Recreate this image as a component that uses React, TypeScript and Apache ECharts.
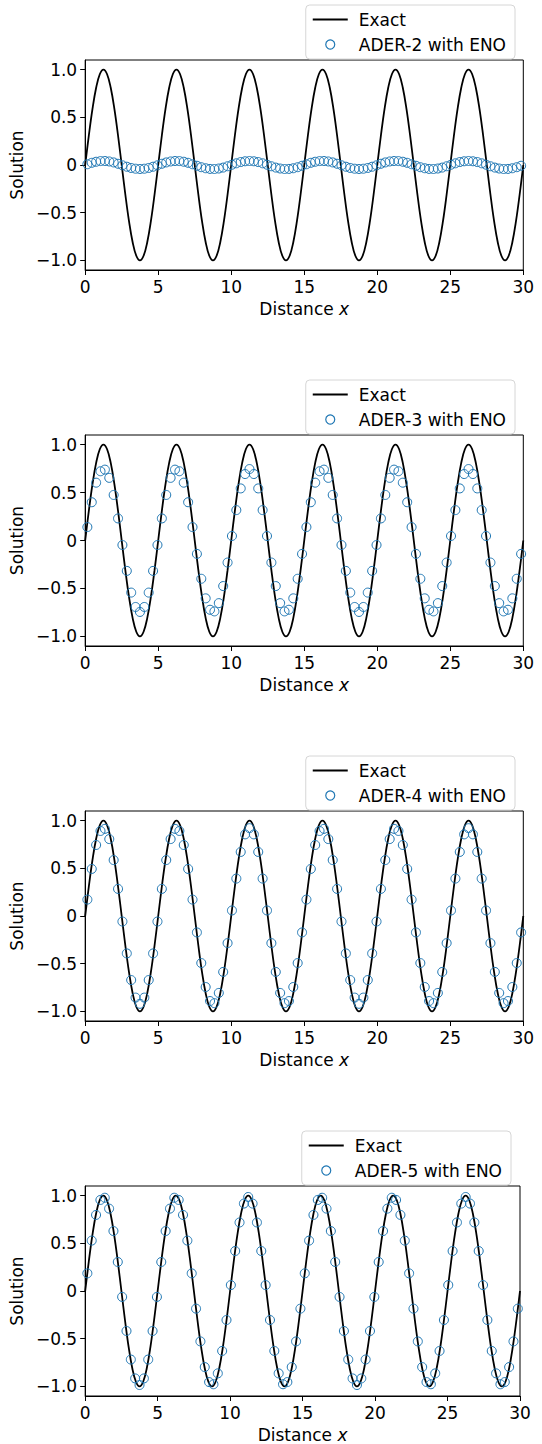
import React, { useEffect, useRef } from "react";
import * as echarts from "echarts";

// Cell centres of the numerical solutions (x)
const cellX = [
  0.15, 0.45, 0.75, 1.05, 1.35, 1.65, 1.95, 2.25, 2.55, 2.85,
  3.15, 3.45, 3.75, 4.05, 4.35, 4.65, 4.95, 5.25, 5.55, 5.85,
  6.15, 6.45, 6.75, 7.05, 7.35, 7.65, 7.95, 8.25, 8.55, 8.85,
  9.15, 9.45, 9.75, 10.05, 10.35, 10.65, 10.95, 11.25, 11.55, 11.85,
  12.15, 12.45, 12.75, 13.05, 13.35, 13.65, 13.95, 14.25, 14.55, 14.85,
  15.15, 15.45, 15.75, 16.05, 16.35, 16.65, 16.95, 17.25, 17.55, 17.85,
  18.15, 18.45, 18.75, 19.05, 19.35, 19.65, 19.95, 20.25, 20.55, 20.85,
  21.15, 21.45, 21.75, 22.05, 22.35, 22.65, 22.95, 23.25, 23.55, 23.85,
  24.15, 24.45, 24.75, 25.05, 25.35, 25.65, 25.95, 26.25, 26.55, 26.85,
  27.15, 27.45, 27.75, 28.05, 28.35, 28.65, 28.95, 29.25, 29.55, 29.85,
];

// Exact solution sample points
const exactX = [
  0, 0.25, 0.5, 0.75, 1, 1.25, 1.5, 1.75, 2, 2.25, 2.5, 2.75, 3, 3.25, 3.5, 3.75, 4, 4.25, 4.5, 4.75,
  5, 5.25, 5.5, 5.75, 6, 6.25, 6.5, 6.75, 7, 7.25, 7.5, 7.75, 8, 8.25, 8.5, 8.75, 9, 9.25, 9.5, 9.75,
  10, 10.25, 10.5, 10.75, 11, 11.25, 11.5, 11.75, 12, 12.25, 12.5, 12.75, 13, 13.25, 13.5, 13.75, 14, 14.25, 14.5, 14.75,
  15, 15.25, 15.5, 15.75, 16, 16.25, 16.5, 16.75, 17, 17.25, 17.5, 17.75, 18, 18.25, 18.5, 18.75, 19, 19.25, 19.5, 19.75,
  20, 20.25, 20.5, 20.75, 21, 21.25, 21.5, 21.75, 22, 22.25, 22.5, 22.75, 23, 23.25, 23.5, 23.75, 24, 24.25, 24.5, 24.75,
  25, 25.25, 25.5, 25.75, 26, 26.25, 26.5, 26.75, 27, 27.25, 27.5, 27.75, 28, 28.25, 28.5, 28.75, 29, 29.25, 29.5, 29.75,
  30,
];
const exactY = [
  0, 0.309, 0.588, 0.809, 0.951, 1, 0.951, 0.809, 0.588, 0.309, 0, -0.309, -0.588, -0.809, -0.951, -1, -0.951, -0.809, -0.588, -0.309,
  0, 0.309, 0.588, 0.809, 0.951, 1, 0.951, 0.809, 0.588, 0.309, 0, -0.309, -0.588, -0.809, -0.951, -1, -0.951, -0.809, -0.588, -0.309,
  0, 0.309, 0.588, 0.809, 0.951, 1, 0.951, 0.809, 0.588, 0.309, 0, -0.309, -0.588, -0.809, -0.951, -1, -0.951, -0.809, -0.588, -0.309,
  0, 0.309, 0.588, 0.809, 0.951, 1, 0.951, 0.809, 0.588, 0.309, 0, -0.309, -0.588, -0.809, -0.951, -1, -0.951, -0.809, -0.588, -0.309,
  0, 0.309, 0.588, 0.809, 0.951, 1, 0.951, 0.809, 0.588, 0.309, 0, -0.309, -0.588, -0.809, -0.951, -1, -0.951, -0.809, -0.588, -0.309,
  0, 0.309, 0.588, 0.809, 0.951, 1, 0.951, 0.809, 0.588, 0.309, 0, -0.309, -0.588, -0.809, -0.951, -1, -0.951, -0.809, -0.588, -0.309,
  0,
];

const ader2 = [
  0.008, 0.023, 0.034, 0.041, 0.042, 0.037, 0.027, 0.013, -0.003, -0.018,
  -0.031, -0.039, -0.042, -0.039, -0.031, -0.018, -0.003, 0.013, 0.027, 0.037,
  0.042, 0.041, 0.034, 0.023, 0.008, -0.008, -0.023, -0.034, -0.041, -0.042,
  -0.037, -0.027, -0.013, 0.003, 0.018, 0.031, 0.039, 0.042, 0.039, 0.031,
  0.018, 0.003, -0.013, -0.027, -0.037, -0.042, -0.041, -0.034, -0.023, -0.008,
  0.008, 0.023, 0.034, 0.041, 0.042, 0.037, 0.027, 0.013, -0.003, -0.018,
  -0.031, -0.039, -0.042, -0.039, -0.031, -0.018, -0.003, 0.013, 0.027, 0.037,
  0.042, 0.041, 0.034, 0.023, 0.008, -0.008, -0.023, -0.034, -0.041, -0.042,
  -0.037, -0.027, -0.013, 0.003, 0.018, 0.031, 0.039, 0.042, 0.039, 0.031,
  0.018, 0.003, -0.013, -0.027, -0.037, -0.042, -0.041, -0.034, -0.023, -0.008,
];

const ader3 = [
  0.140, 0.399, 0.603, 0.722, 0.739, 0.653, 0.475, 0.230, -0.047, -0.317,
  -0.543, -0.693, -0.745, -0.693, -0.543, -0.317, -0.047, 0.230, 0.475, 0.653,
  0.739, 0.722, 0.603, 0.399, 0.140, -0.140, -0.399, -0.603, -0.722, -0.739,
  -0.653, -0.475, -0.230, 0.047, 0.317, 0.543, 0.693, 0.745, 0.693, 0.543,
  0.317, 0.047, -0.230, -0.475, -0.653, -0.739, -0.722, -0.603, -0.399, -0.140,
  0.140, 0.399, 0.603, 0.722, 0.739, 0.653, 0.475, 0.230, -0.047, -0.317,
  -0.543, -0.693, -0.745, -0.693, -0.543, -0.317, -0.047, 0.230, 0.475, 0.653,
  0.739, 0.722, 0.603, 0.399, 0.140, -0.140, -0.399, -0.603, -0.722, -0.739,
  -0.653, -0.475, -0.230, 0.047, 0.317, 0.543, 0.693, 0.745, 0.693, 0.543,
  0.317, 0.047, -0.230, -0.475, -0.653, -0.739, -0.722, -0.603, -0.399, -0.140,
];

const ader4 = [
  0.172, 0.493, 0.744, 0.891, 0.913, 0.806, 0.586, 0.284, -0.058, -0.392,
  -0.671, -0.855, -0.920, -0.855, -0.671, -0.392, -0.058, 0.284, 0.586, 0.806,
  0.913, 0.891, 0.744, 0.493, 0.172, -0.172, -0.493, -0.744, -0.891, -0.913,
  -0.806, -0.586, -0.284, 0.058, 0.392, 0.671, 0.855, 0.920, 0.855, 0.671,
  0.392, 0.058, -0.284, -0.586, -0.806, -0.913, -0.891, -0.744, -0.493, -0.172,
  0.172, 0.493, 0.744, 0.891, 0.913, 0.806, 0.586, 0.284, -0.058, -0.392,
  -0.671, -0.855, -0.920, -0.855, -0.671, -0.392, -0.058, 0.284, 0.586, 0.806,
  0.913, 0.891, 0.744, 0.493, 0.172, -0.172, -0.493, -0.744, -0.891, -0.913,
  -0.806, -0.586, -0.284, 0.058, 0.392, 0.671, 0.855, 0.920, 0.855, 0.671,
  0.392, 0.058, -0.284, -0.586, -0.806, -0.913, -0.891, -0.744, -0.493, -0.172,
];

const ader5 = [
  0.185, 0.528, 0.797, 0.954, 0.977, 0.863, 0.628, 0.304, -0.062, -0.419,
  -0.718, -0.916, -0.985, -0.916, -0.718, -0.419, -0.062, 0.304, 0.628, 0.863,
  0.977, 0.954, 0.797, 0.528, 0.185, -0.185, -0.528, -0.797, -0.954, -0.977,
  -0.863, -0.628, -0.304, 0.062, 0.419, 0.718, 0.916, 0.985, 0.916, 0.718,
  0.419, 0.062, -0.304, -0.628, -0.863, -0.977, -0.954, -0.797, -0.528, -0.185,
  0.185, 0.528, 0.797, 0.954, 0.977, 0.863, 0.628, 0.304, -0.062, -0.419,
  -0.718, -0.916, -0.985, -0.916, -0.718, -0.419, -0.062, 0.304, 0.628, 0.863,
  0.977, 0.954, 0.797, 0.528, 0.185, -0.185, -0.528, -0.797, -0.954, -0.977,
  -0.863, -0.628, -0.304, 0.062, 0.419, 0.718, 0.916, 0.985, 0.916, 0.718,
  0.419, 0.062, -0.304, -0.628, -0.863, -0.977, -0.954, -0.797, -0.528, -0.185,
];

const schemeNames = ["ADER-2 with ENO", "ADER-3 with ENO", "ADER-4 with ENO", "ADER-5 with ENO"];
const schemeValues = [ader2, ader3, ader4, ader5];
const xTicks = [0, 5, 10, 15, 20, 25, 30];
const yTicks = [-1, -0.5, 0, 0.5, 1];

const FONT = "DejaVu Sans";
const FS = 17;
const BLUE = "#1f77b4";

const panels = [
  { left: 82.7, top: 60, width: 440.6, height: 210, legendRight: 27, legendTop: 5, nameGap: 55 },
  { left: 82.7, top: 435, width: 440.6, height: 211, legendRight: 27, legendTop: 380, nameGap: 55 },
  { left: 82.7, top: 811, width: 440.6, height: 210, legendRight: 27, legendTop: 756, nameGap: 55 },
  { left: 79.3, top: 1186, width: 440.7, height: 210.7, legendRight: 31, legendTop: 1131, nameGap: 55.5 },
];

const fmtY = (v: number) => {
  if (Math.abs(v) < 1e-9) return "0";
  const s = v.toFixed(1);
  return v < 0 ? "\u2212" + s.slice(1) : s;
};

export default function App() {
  const ref = useRef<HTMLDivElement>(null);
  useEffect(() => {
    document.body.style.margin = "0";
    if (!ref.current) return;
    const chart = echarts.init(ref.current, undefined, { renderer: "svg" });
    const exactData = exactX.map((x, k) => [x, exactY[k]]);

    const grid = panels.map((p) => ({
      left: p.left,
      top: p.top,
      width: p.width,
      height: p.height,
      show: true,
      borderColor: "#000",
      borderWidth: 1,
      backgroundColor: "transparent",
      containLabel: false,
    }));

    const xAxis = panels.map((_, i) => ({
      type: "value",
      gridIndex: i,
      min: 0,
      max: 30,
      interval: 5,
      splitLine: { show: false },
      axisLine: { show: true, onZero: false, lineStyle: { color: "#000", width: 1 } },
      axisTick: { show: true, inside: false, length: 5, lineStyle: { color: "#000", width: 1 }, customValues: xTicks },
      axisLabel: { color: "#000", fontSize: FS, fontFamily: FONT, margin: 8, customValues: xTicks },
      name: "{n|Distance }{i|x}",
      nameLocation: "middle",
      nameGap: 30,
      nameTextStyle: {
        rich: {
          n: { fontSize: FS, fontFamily: FONT, color: "#000" },
          i: { fontSize: FS, fontFamily: FONT, color: "#000", fontStyle: "italic" },
        },
      },
    }));

    const yAxis = panels.map((p, i) => ({
      type: "value",
      gridIndex: i,
      min: -1.1,
      max: 1.1,
      splitLine: { show: false },
      axisLine: { show: true, onZero: false, lineStyle: { color: "#000", width: 1 } },
      axisTick: { show: true, inside: false, length: 5, lineStyle: { color: "#000", width: 1 }, customValues: yTicks },
      axisLabel: { color: "#000", fontSize: FS, fontFamily: FONT, margin: 8, customValues: yTicks, formatter: fmtY },
      name: "Solution",
      nameLocation: "middle",
      nameGap: p.nameGap,
      nameRotate: 90,
      nameTextStyle: { fontSize: FS, fontFamily: FONT, color: "#000" },
    }));

    const series: any[] = [];
    panels.forEach((_, i) => {
      series.push({
        type: "line",
        name: "Exact",
        xAxisIndex: i,
        yAxisIndex: i,
        data: exactData,
        symbol: "none",
        smooth: 0.4,
        lineStyle: { color: "#000", width: 1.8 },
        itemStyle: { color: "#000" },
        z: 2,
      });
      series.push({
        type: "scatter",
        name: schemeNames[i],
        xAxisIndex: i,
        yAxisIndex: i,
        data: cellX.map((x, k) => [x, schemeValues[i][k]]),
        symbol: "circle",
        symbolSize: 9,
        itemStyle: { color: "rgba(0,0,0,0)", borderColor: BLUE, borderWidth: 1, opacity: 1 },
        z: 3,
      });
    });

    const legend = panels.map((p, i) => ({
      data: [
        { name: "Exact", icon: "path://M0,0L35,0L35,1.8L0,1.8Z", itemStyle: { color: "#000" } },
        { name: schemeNames[i], icon: "circle", itemStyle: { color: "rgba(0,0,0,0)", borderColor: BLUE, borderWidth: 1.2 } },
      ],
      orient: "vertical",
      right: p.legendRight,
      top: p.legendTop,
      align: "left",
      itemWidth: 35,
      itemHeight: 9,
      itemGap: 8,
      padding: [6, 9, 6, 7],
      borderColor: "#d6d6d6",
      borderWidth: 1,
      borderRadius: 4,
      backgroundColor: "rgba(255,255,255,0.85)",
      selectedMode: false,
      textStyle: { fontSize: FS, fontFamily: FONT, color: "#000", lineHeight: 17, padding: [0, 0, 0, 6] },
    }));

    chart.setOption({
      animation: false,
      backgroundColor: "#fff",
      textStyle: { fontFamily: FONT },
      grid,
      xAxis,
      yAxis,
      legend,
      series,
    });
    return () => chart.dispose();
  }, []);
  return (
    <div
      ref={ref}
      style={{ position: "absolute", left: 0, top: 0, width: 542, height: 1444 }}
    />
  );
}
